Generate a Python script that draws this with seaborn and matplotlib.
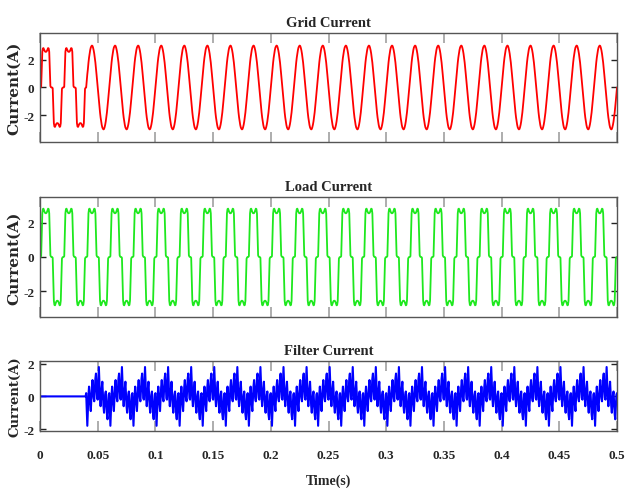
import matplotlib
matplotlib.use("Agg")
import matplotlib.pyplot as plt
import numpy as np
import pandas as pd
import seaborn as sns

# sampling of the simulated waveforms
STEP = 0.0005          # all currents sampled every 0.5 ms
N_CYCLES = 25          # 50 Hz cycles in 0.5 s
SWITCH_CYCLES = 2      # filter switched on at 0.04 s

# one 50 Hz cycle of each current (A)
LOAD_CYCLE = [
    0.0, 0.0, 0.05, 1.4, 2.55, 2.8, 2.82, 2.72, 2.62, 2.56,
    2.55, 2.56, 2.62, 2.72, 2.82, 2.8, 2.55, 1.4, 0.1, 0.02,
    0.0, 0.0, -0.05, -1.4, -2.55, -2.8, -2.82, -2.72, -2.62, -2.56,
    -2.55, -2.56, -2.62, -2.72, -2.82, -2.8, -2.55, -1.4, -0.1, -0.02,
]
GRID_CYCLE = [
    0.0, 0.5, 0.95, 1.32, 1.78, 2.14, 2.40, 2.68, 2.86, 2.95,
    3.0, 2.97, 2.84, 2.66, 2.42, 2.10, 1.78, 1.38, 0.92, 0.47,
    0.0, -0.5, -0.95, -1.32, -1.78, -2.14, -2.40, -2.68, -2.86, -2.95,
    -3.0, -2.97, -2.84, -2.66, -2.42, -2.10, -1.78, -1.38, -0.92, -0.47,
]
FILTER_CYCLE = [
    0.2, -0.9, -1.8, -0.9, 0.1, 0.6, 0.1, -0.5, -0.9, -0.2,
    0.6, 1.0, 0.4, -0.1, -0.3, 0.4, 1.1, 1.4, 0.6, -0.1,
    -0.2, 0.9, 1.8, 0.9, -0.1, -0.6, -0.1, 0.5, 0.9, 0.2,
    -0.6, -1.0, -0.4, 0.1, 0.3, -0.4, -1.1, -1.4, -0.6, 0.1,
]

X_TICKS = [0, 0.05, 0.1, 0.15, 0.2, 0.25, 0.3, 0.35, 0.4, 0.45, 0.5]
X_TICK_LABELS = ["0", "0.05", "0.1", "0.15", "0.2", "0.25", "0.3", "0.35", "0.4", "0.45", "0.5"]
Y_TICKS = [-2, 0, 2]
Y_TICK_LABELS = ["-2", "0", "2"]
TITLES = ["Grid Current", "Load Current", "Filter Current"]
COLORS = ["#ff0000", "#1ee81e", "#0000ff"]
YLIMS = [(-3.9, 3.9), (-3.5, 3.5), (-2.1, 2.15)]

SERIF = ["Liberation Serif", "DejaVu Serif"]


def build_frames():
    n = N_CYCLES * len(LOAD_CYCLE)
    t = np.arange(n + 1) * STEP
    load = np.append(np.tile(LOAD_CYCLE, N_CYCLES), LOAD_CYCLE[0])
    grid = np.concatenate([
        np.tile(LOAD_CYCLE, SWITCH_CYCLES),
        np.tile(GRID_CYCLE, N_CYCLES - SWITCH_CYCLES),
        [GRID_CYCLE[0]],
    ])
    filt = np.concatenate([
        np.zeros(SWITCH_CYCLES * len(FILTER_CYCLE)),
        np.tile(FILTER_CYCLE, N_CYCLES - SWITCH_CYCLES),
        [FILTER_CYCLE[0]],
    ])
    return [
        pd.DataFrame({"t": t, "i": grid}),
        pd.DataFrame({"t": t, "i": load}),
        pd.DataFrame({"t": t, "i": filt}),
    ]


def style_axis(ax, ylim, show_x):
    ax.set_xlim(0, 0.5)
    ax.set_ylim(*ylim)
    ax.set_xticks(X_TICKS)
    ax.set_yticks(Y_TICKS)
    ax.set_yticklabels(Y_TICK_LABELS, family=SERIF, fontweight="bold", fontsize=9.5)
    if show_x:
        ax.set_xticklabels(X_TICK_LABELS, family=SERIF, fontweight="bold", fontsize=9.5)
    else:
        ax.set_xticklabels([])
    ax.tick_params(axis="x", direction="in", length=7, width=1.2, color="#a0a0a0",
                   top=True, bottom=True, pad=13)
    ax.tick_params(axis="y", direction="in", length=4, width=1.0, color="#222222",
                   left=True, right=True, pad=4)
    for spine in ax.spines.values():
        spine.set_color("#555555")
        spine.set_linewidth(1.0)
        spine.set_visible(True)


def main():
    sns.set_style("white")
    plt.rcParams["axes.unicode_minus"] = False

    frames = build_frames()
    fig = plt.figure(figsize=(6.28, 4.89), dpi=100)
    positions = [
        [0.0637, 0.7076, 0.9188, 0.2229],
        [0.0637, 0.3497, 0.9188, 0.2454],
        [0.0637, 0.1172, 0.9188, 0.1419],
    ]
    label_sizes = [11, 11, 9.5]
    line_widths = [1.3, 1.3, 1.5]

    for k, df in enumerate(frames):
        ax = fig.add_axes(positions[k])
        sns.lineplot(data=df, x="t", y="i", ax=ax, color=COLORS[k], linewidth=line_widths[k],
                     estimator=None, sort=False)
        style_axis(ax, YLIMS[k], show_x=(k == 2))
        ax.set_title(TITLES[k], family=SERIF, fontweight="bold", fontsize=10.5, pad=5)
        ax.set_ylabel("Current(A)", family=["DejaVu Serif"], fontweight="bold",
                      fontsize=label_sizes[k])
        ax.yaxis.set_label_coords(-0.033, 0.5)
        if k == 2:
            ax.set_xlabel("Time(s)", family=SERIF, fontweight="bold", fontsize=10, labelpad=9)
        else:
            ax.set_xlabel("")

    fig.savefig("out.png", dpi=100)
    plt.close(fig)


if __name__ == "__main__":
    main()
